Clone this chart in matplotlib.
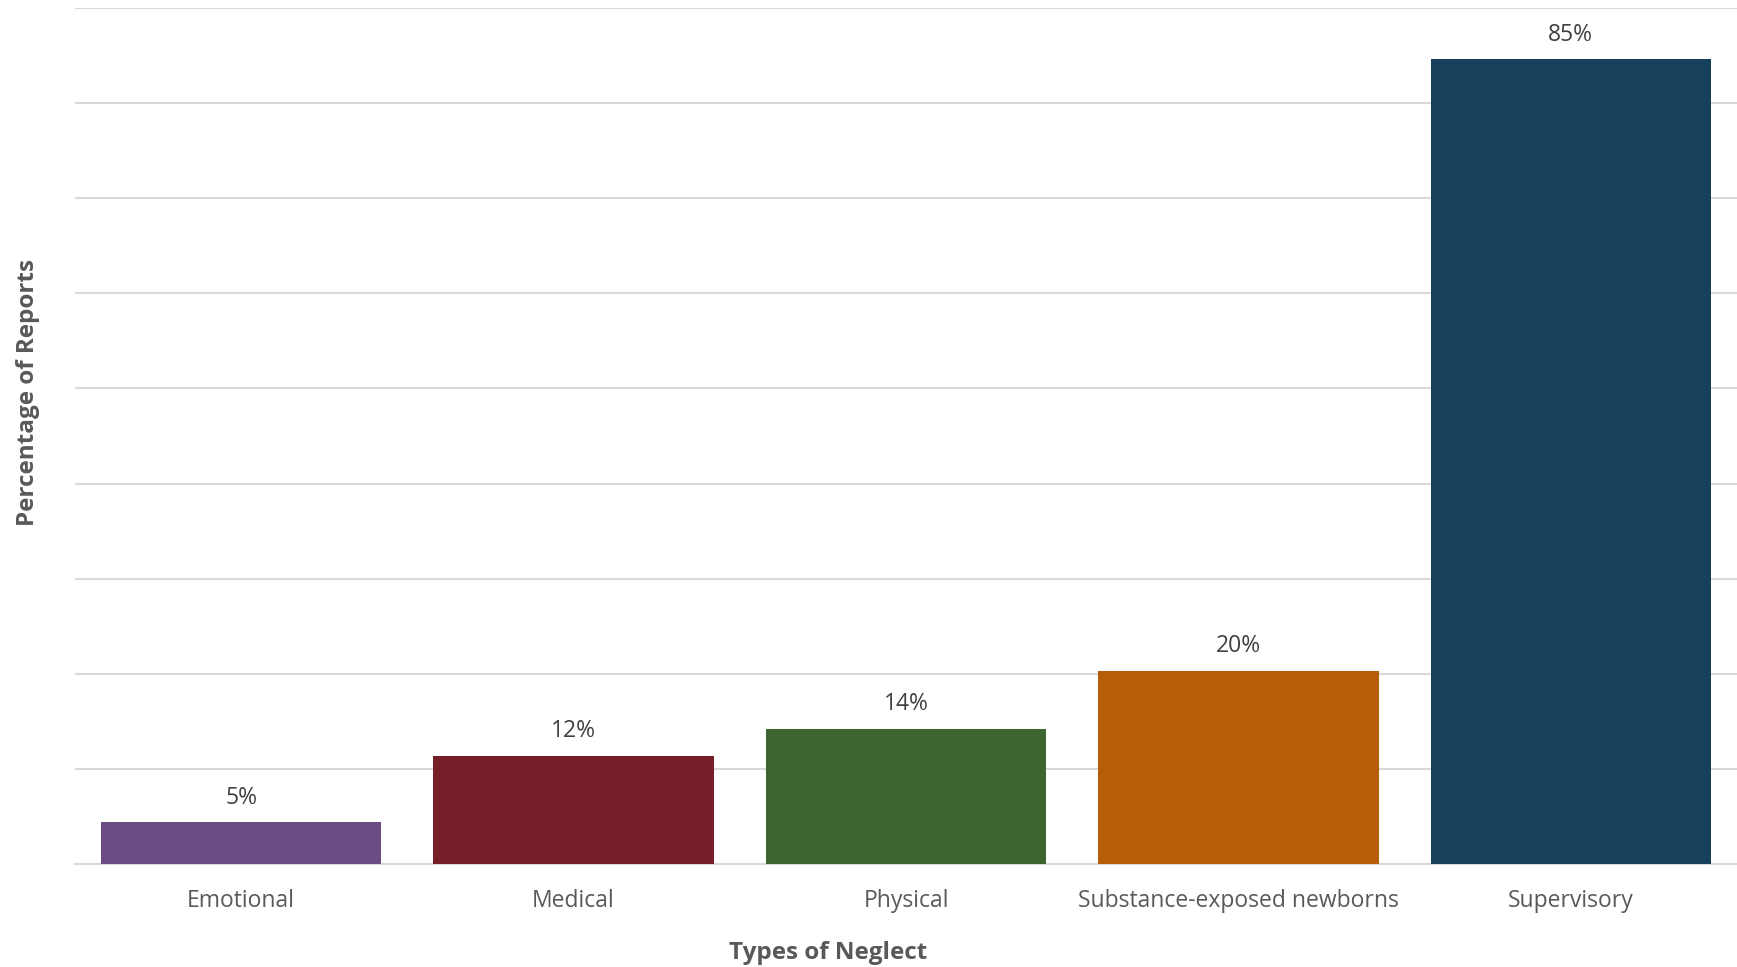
import matplotlib.pyplot as plt
import numpy as np

# data
categories = ['Emotional', 'Medical', 'Physical', 'Substance-exposed newborns', 'Supervisory']
values = [0.044, 0.114, 0.142, 0.203, 0.846]
value_labels = ['5%', '12%', '14%', '20%', '85%']
colors = ['#6A4C82', '#771F28', '#3D6530', '#B55E07', '#16405B']

plt.rcParams['font.family'] = ['Open Sans', 'DejaVu Sans']
text_color = '#595959'

fig = plt.figure(figsize=(17.37, 9.67), dpi=100)
ax = fig.add_axes([75 / 1737, 1 - 864 / 967, 1 - 75 / 1737, (864 - 8) / 967])

x = np.arange(len(categories))
bars = ax.bar(x, values, width=0.843, color=colors, zorder=3)

for b, lab in zip(bars, value_labels):
    ax.annotate(lab, (b.get_x() + b.get_width() / 2, b.get_height()),
                xytext=(0, 9), textcoords='offset points',
                ha='center', va='bottom', fontsize=16.5, color='#404040')

ax.set_ylim(0, 0.9)
ax.set_xlim(-0.5, 4.5)
ax.set_yticks(np.arange(0, 0.91, 0.1))
ax.set_yticklabels([])
ax.tick_params(axis='y', length=0)
ax.tick_params(axis='x', length=0, pad=18, labelsize=16.5, labelcolor=text_color)
ax.set_xticks(x)
ax.set_xticklabels(categories)
ax.grid(axis='y', color='#D9D9D9', linewidth=1.5, zorder=0)
for s in ['top', 'right', 'left']:
    ax.spines[s].set_visible(False)
ax.spines['bottom'].set_color('#D9D9D9')
ax.spines['bottom'].set_linewidth(1.5)

ax.set_xlabel('Types of Neglect', fontsize=17.5, fontweight='bold', color=text_color, va='center')
ax.set_ylabel('Percentage of Reports', fontsize=17.5, fontweight='bold', color=text_color, va='center')
ax.xaxis.set_label_coords(0.453, -0.104)
ax.yaxis.set_label_coords(-0.028, 0.551)

fig.savefig('out.png', dpi=100)
